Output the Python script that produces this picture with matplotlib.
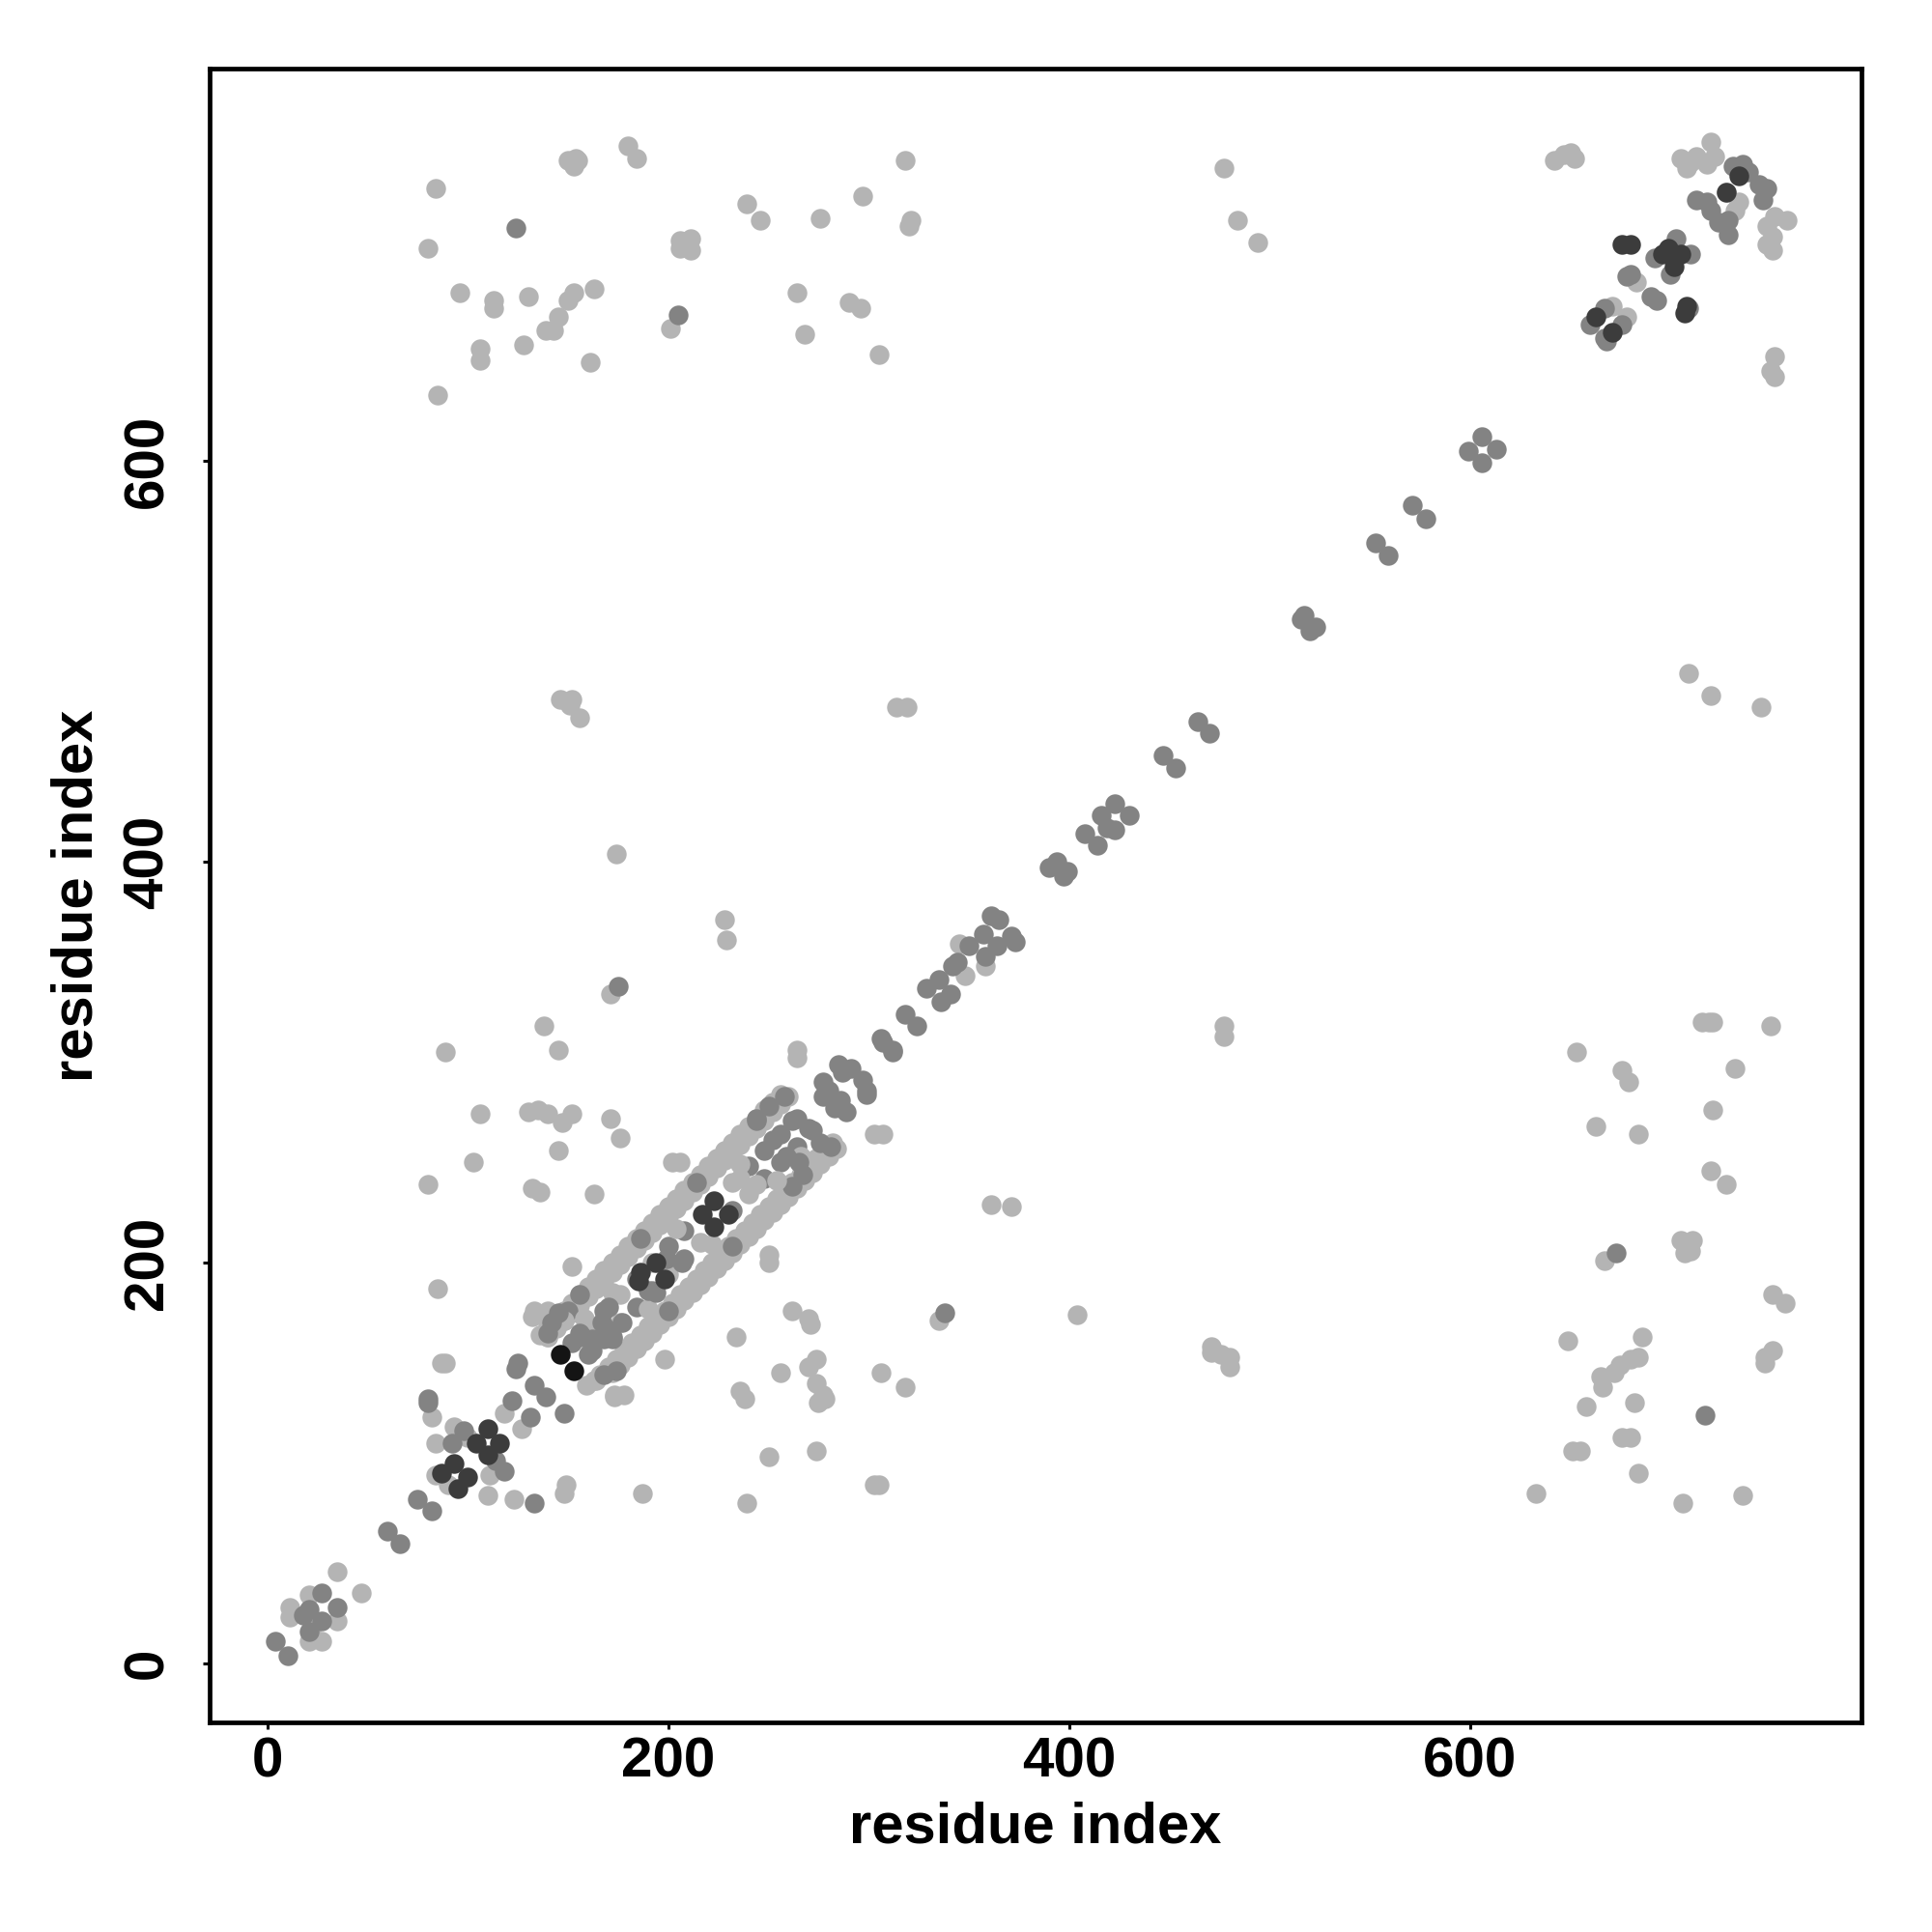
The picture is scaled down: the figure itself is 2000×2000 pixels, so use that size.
import matplotlib
matplotlib.use("Agg")
import matplotlib.pyplot as plt

plt.rcParams['font.family'] = ['Liberation Sans', 'DejaVu Sans']
plt.rcParams['font.weight'] = 'bold'

# contact points, grouped by grey level (residue i, residue j)
# the wide beta band between residues ~140 and ~285: two light rails ...
band_upper = [
    (136, 164), (140, 168), (144, 172), (148, 176), (152, 180), (156, 184), (160, 188),
    (164, 192), (168, 196), (172, 200), (176, 204), (180, 208), (184, 212), (188, 216),
    (192, 220), (196, 224), (200, 228), (204, 232), (208, 236), (212, 240), (216, 244),
    (220, 248), (224, 252), (228, 256), (232, 260), (236, 264), (240, 268), (244, 272),
    (248, 276), (252, 280), (256, 284),
    (140, 163), (144, 167), (148, 171), (152, 175), (156, 179), (160, 183), (164, 187),
    (168, 191), (172, 195), (176, 199), (180, 203), (184, 207), (188, 211), (192, 215),
    (196, 219), (200, 223), (204, 227), (208, 231), (212, 235), (216, 239), (220, 243),
    (224, 247), (228, 251), (232, 255), (236, 259), (240, 263), (244, 267), (248, 271),
    (252, 275), (256, 279), (260, 283),
]
band_lower = [
    (172, 145), (176, 149), (180, 153), (184, 157), (188, 161), (192, 165), (196, 169),
    (200, 173), (204, 177), (208, 181), (212, 185), (216, 189), (220, 193), (224, 197),
    (228, 201), (232, 205), (236, 209), (240, 213), (244, 217), (248, 221), (252, 225),
    (256, 229), (260, 233), (264, 237), (268, 241), (272, 245), (276, 249), (280, 253),
    (284, 257),
    (166, 144), (170, 148), (174, 152), (178, 156), (182, 160), (186, 164), (190, 168),
    (194, 172), (198, 176), (202, 180), (206, 184), (210, 188), (214, 192), (218, 196),
    (222, 200), (226, 204), (230, 208), (234, 212), (238, 216), (242, 220), (246, 224),
    (250, 228), (254, 232), (258, 236), (262, 240), (266, 244), (270, 248), (274, 252),
    (278, 256), (282, 260),
]
# ... and a mixed filling between them
band_inner_light = [(160, 168), (176, 184), (192, 200), (232, 240), (176, 170), (200, 194),
                    (216, 210), (240, 234), (172, 185), (204, 217), (236, 249), (190, 177),
                    (222, 209), (254, 241), (158, 172), (266, 253)]
band_inner_mid = [(152, 160), (168, 176), (184, 192), (200, 208), (208, 216), (240, 248),
                  (248, 256), (256, 264), (264, 272), (160, 154), (168, 162), (184, 178),
                  (192, 186), (208, 202), (232, 226), (248, 242), (256, 250), (264, 258),
                  (272, 266), (186, 212), (214, 240), (244, 272), (200, 176), (232, 208),
                  (262, 238), (150, 176), (250, 278)]

light_pts = [
    # upper left block
    (84, 736), (80, 706), (96, 684), (113, 680), (113, 676), (130, 682), (153, 684),
    (150, 680), (145, 672), (139, 665), (143, 665), (163, 686), (106, 656), (106, 650),
    (128, 658), (161, 649), (85, 633), (150, 750), (154, 751), (155, 750), (153, 747),
    (180, 757), (184, 751), (206, 710), (211, 711), (211, 705), (206, 706), (201, 666),
    (239, 728), (246, 720), (276, 721), (297, 732), (318, 750), (321, 720), (320, 717),
    (264, 684), (290, 679), (296, 676), (268, 663), (305, 653),
    (477, 746), (484, 720), (494, 709),
    # upper right block
    (642, 750), (647, 753), (652, 751), (650, 754), (720, 759), (705, 751), (710, 749),
    (713, 752), (708, 746), (718, 748), (722, 752), (728, 734), (734, 729), (732, 725),
    (752, 722), (758, 720), (748, 717), (751, 712), (748, 708), (751, 705), (752, 652),
    (750, 645), (752, 642), (671, 677), (678, 672), (683, 689),
    (709, 494), (720, 483), (745, 477),
    # lower right block
    (719, 320), (716, 320), (721, 320), (750, 318), (653, 305), (676, 296), (679, 290),
    (732, 297), (721, 276), (663, 268), (684, 264), (720, 246), (728, 239), (705, 211),
    (711, 211), (707, 205), (710, 206), (667, 201), (751, 184), (757, 180), (649, 161),
    (686, 163), (684, 153), (680, 152), (675, 149), (672, 145), (665, 143), (666, 138),
    (751, 156), (747, 150), (747, 153), (658, 128), (682, 130), (676, 113), (680, 113),
    (651, 106), (655, 106), (684, 95), (633, 85), (706, 80), (736, 84),
    # middle
    (477, 318), (477, 313), (314, 477), (319, 477),
    (146, 481), (152, 481), (156, 472), (151, 478), (174, 404), (228, 371), (229, 361),
    (171, 334), (138, 318), (145, 306), (89, 305), (106, 274), (130, 275), (135, 276),
    (140, 274), (147, 270), (152, 274), (171, 272), (176, 262), (145, 256), (103, 250),
    (80, 239), (132, 237), (136, 235), (163, 234), (152, 198), (85, 187), (133, 176),
    (132, 173), (140, 163), (87, 150), (89, 150),
    (264, 306), (264, 302), (307, 264), (303, 264), (361, 229), (371, 228), (250, 204),
    (250, 200), (335, 171), (404, 174), (471, 158), (480, 153), (480, 148), (471, 155),
    (476, 154), (262, 176), (270, 172), (271, 169), (234, 163), (274, 152), (270, 148),
    (256, 145), (318, 138), (236, 136), (238, 132), (274, 140), (277, 134), (275, 130),
    (278, 132), (250, 103), (274, 106), (305, 89), (303, 89), (239, 80), (306, 145),
    (202, 250), (206, 250), (198, 152), (173, 134), (178, 134), (163, 141), (159, 139),
    (236, 242), (244, 239), (348, 343), (358, 348), (345, 359),
    # near origin
    (21, 11), (27, 11), (22, 17), (11, 28), (11, 23), (21, 34), (35, 21), (35, 46), (47, 35),
    (82, 123), (84, 110), (93, 118), (100, 113), (84, 94), (90, 89), (110, 84), (123, 82),
    (149, 89), (148, 85), (187, 85), (118, 125), (127, 117), (164, 141), (173, 133),
    (111, 94), (140, 176), (148, 171),
]

mid_pts = [
    (124, 716), (205, 673),
    (731, 747), (736, 748), (739, 744), (744, 738), (748, 736), (746, 730), (713, 730),
    (718, 729), (720, 725), (724, 719), (729, 720), (729, 713), (703, 711), (692, 701),
    (710, 703), (700, 693), (680, 693), (678, 692), (690, 682), (693, 680), (709, 676),
    (667, 676), (660, 668), (667, 661), (676, 668), (668, 660),
    (673, 205), (717, 124), (175, 338), (125, 150), (312, 305), (307, 310), (338, 175),
    # near origin
    (4, 11), (10, 4), (21, 27), (18, 24), (27, 35), (35, 28), (27, 21), (21, 16),
    (60, 66), (66, 60), (75, 82), (82, 76), (80, 132), (80, 130), (98, 116), (92, 110),
    (114, 101), (118, 96), (133, 80), (122, 131), (131, 123), (124, 147), (133, 139),
    (139, 133), (148, 125), (156, 165), (162, 156), (169, 167), (172, 162),
    # beta band
    (170, 178), (167, 170), (162, 162), (172, 163), (177, 170), (157, 163), (145, 175),
    (142, 170), (190, 186), (194, 185), (199, 202), (207, 200), (252, 261), (259, 253),
    (265, 250), (267, 244), (262, 271), (270, 267), (276, 260), (281, 258), (156, 184),
    (244, 271), (168, 144), (174, 146), (140, 165), (258, 283),
    # diagonal
    (285, 299), (291, 297), (287, 295), (277, 290), (280, 286), (277, 283), (286, 281),
    (283, 277), (289, 275), (297, 291), (299, 286), (299, 284),
    (306, 312), (312, 306), (318, 324), (324, 318), (335, 341), (329, 337), (341, 334),
    (336, 330), (361, 373), (365, 371), (371, 363), (373, 360), (357, 364), (364, 358),
    (358, 353), (350, 358), (344, 350), (342, 348),
    (394, 400), (390, 397), (397, 393), (399, 395), (408, 414), (414, 408), (423, 429),
    (416, 423), (430, 423), (423, 416), (419, 417), (447, 453), (453, 447), (464, 470),
    (470, 464), (517, 523), (523, 517), (520, 515), (516, 521), (553, 559), (559, 553),
    (571, 578), (578, 571), (606, 612), (599, 605), (613, 606), (606, 599),
]

dark_pts = [
    (734, 742), (728, 734), (676, 708), (680, 708), (696, 703), (702, 697), (705, 703),
    (699, 706), (708, 677), (707, 674), (663, 672), (671, 664),
    (110, 117), (104, 110), (116, 110), (110, 104), (93, 100), (87, 95), (100, 93), (95, 87),
    (223, 231), (230, 224), (217, 224), (223, 218), (186, 195), (185, 191), (194, 200),
    (198, 192),
]

black_pts = [(146, 154), (153, 146)]

groups = [
    (band_upper + band_lower, '#b4b4b4'),
    (band_inner_mid, '#838383'),
    (band_inner_light, '#b4b4b4'),
    (light_pts, '#b4b4b4'),
    (mid_pts, '#838383'),
    (dark_pts, '#3c3c3c'),
    (black_pts, '#141414'),
]

fig = plt.figure(figsize=(10, 10), dpi=200)
ax = fig.add_axes([0.1083, 0.1085, 0.8552, 0.8558])

for pts, col in groups:
    xs = [p[0] for p in pts]
    ys = [p[1] for p in pts]
    ax.scatter(xs, ys, s=54, c=col, linewidths=0)

ax.set_xlim(-29, 795.3)
ax.set_ylim(-29.4, 795.5)

ticks = [0, 200, 400, 600]
ax.set_xticks(ticks)
ax.set_yticks(ticks)
ax.set_xticklabels([str(t) for t in ticks], fontsize=21, fontweight='bold')
ax.set_yticklabels([str(t) for t in ticks], fontsize=21, fontweight='bold',
                   rotation=90, va='center')
ax.tick_params(axis='both', direction='out', length=2.6, width=1.1)
ax.tick_params(axis='x', pad=2.5)
ax.tick_params(axis='y', pad=10.5)
for sp in ax.spines.values():
    sp.set_linewidth(1.7)

fig.text(0.536, 0.0542, 'residue index', ha='center', va='center',
         fontsize=21.5, fontweight='bold')
fig.text(0.0402, 0.5365, 'residue index', ha='center', va='center',
         rotation=90, fontsize=21.5, fontweight='bold')

fig.savefig('out.png', dpi=200, facecolor='white')
